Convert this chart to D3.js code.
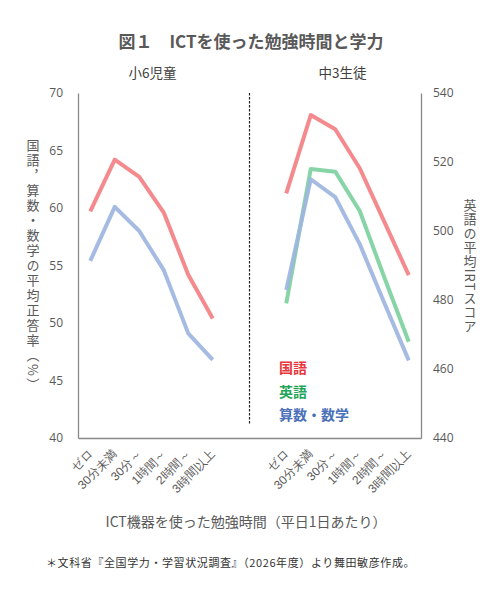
<!DOCTYPE html>
<html><head><meta charset="utf-8">
<script src="https://cdn.jsdelivr.net/npm/d3@7/dist/d3.min.js"></script>
<style>
html,body{margin:0;padding:0;background:#fff;}
svg{display:block;font-family:"Noto Sans CJK JP","Noto Sans",sans-serif;}
</style></head>
<body><svg id="chart" width="501" height="600"></svg>
<script>
const categories = ["ゼロ","30分未満","30分～","1時間～","2時間～","3時間以上"];
const groups = ["小6児童","中3生徒"];
const elemKokugo = [59.7, 64.2, 62.7, 59.6, 54.2, 50.4];
const elemMath   = [55.4, 60.1, 58.0, 54.6, 49.1, 46.8];
const juniorKokugo  = [510.9, 533.6, 529.5, 518.2, 502.7, 487.2];
const juniorEnglish = [479.0, 518.0, 517.2, 505.8, 486.6, 467.9];
const juniorMath    = [482.9, 515.0, 509.8, 496.2, 479.2, 462.5];
const leftTicks  = [40, 45, 50, 55, 60, 65, 70];
const rightTicks = [440, 460, 480, 500, 520, 540];
const legendItems = ["国語","英語","算数・数学"];

const svg = d3.select("#chart");
const M = {left: 78, right: 421, top: 93, bottom: 438};
const grey = "#595959";
const colLine = {k: "#f38083", e: "#7dd1a0", m: "#9db5df"};
const colText = {k: "#e8353b", e: "#23a55b", m: "#4a70b8"};

// slot domain: 6 elementary, 2 gaps, 6 junior
const slots = [...categories.map(c => "s|" + c), "gap1", "gap2", ...categories.map(c => "j|" + c)];
const x = d3.scaleBand().domain(slots).range([M.left, M.right]).paddingInner(0).paddingOuter(0);
const cx = k => x(k) + x.bandwidth() / 2;
const yL = d3.scaleLinear().domain([40, 70]).range([M.bottom, M.top]);
const yR = d3.scaleLinear().domain([440, 540]).range([M.bottom, M.top]);

// title
svg.append("text").attr("x", 251).attr("y", 48).attr("text-anchor", "middle")
  .attr("font-size", 17).attr("font-weight", "bold").attr("fill", grey)
  .text("図１　ICTを使った勉強時間と学力");

// group labels
svg.append("text").attr("x", (x("s|ゼロ") + x("gap1")) / 2 + 1).attr("y", 78).attr("text-anchor", "middle")
  .attr("font-size", 13.5).attr("fill", "#404040").text(groups[0]);
svg.append("text").attr("x", (x("j|ゼロ") + M.right) / 2 - 5).attr("y", 78).attr("text-anchor", "middle")
  .attr("font-size", 13.5).attr("fill", "#404040").text(groups[1]);

// left axis
const gL = svg.append("g").attr("transform", `translate(${M.left},0)`)
  .call(d3.axisLeft(yL).tickValues(leftTicks).tickSize(0).tickPadding(15));
gL.select(".domain").attr("stroke", "#898989").attr("stroke-width", 1.3);
gL.selectAll("text").attr("font-size", 12).attr("fill", grey).attr("font-family", "'Open Sans','Noto Sans',sans-serif");

// right axis
const gR = svg.append("g").attr("transform", `translate(${M.right},0)`)
  .call(d3.axisRight(yR).tickValues(rightTicks).tickSize(0).tickPadding(12));
gR.select(".domain").attr("stroke", "#898989").attr("stroke-width", 1.3);
gR.selectAll("text").attr("font-size", 12).attr("fill", grey).attr("font-family", "'Open Sans','Noto Sans',sans-serif");

// bottom axis
const tickKeys = slots.filter(s => s.indexOf("|") > 0);
const gB = svg.append("g").attr("transform", `translate(0,${M.bottom})`)
  .call(d3.axisBottom(x).tickValues(tickKeys).tickSize(0).tickFormat(d => d.split("|")[1]));
gB.select(".domain").attr("stroke", "#898989").attr("stroke-width", 1.3);
gB.selectAll(".tick text")
  .attr("font-size", 12).attr("fill", grey)
  .attr("text-anchor", "end").attr("y", 0).attr("dy", 0)
  .attr("transform", "translate(3,17) rotate(-45)");

// divider
svg.append("line").attr("x1", x("gap2")).attr("x2", x("gap2"))
  .attr("y1", M.top).attr("y2", 424)
  .attr("stroke", "#222").attr("stroke-width", 1.2).attr("stroke-dasharray", "2.5,1.5");

// lines
const mkLine = (prefix, yScale) => d3.line().x((d, i) => cx(prefix + categories[i])).y(d => yScale(d));
const series = [
  {v: elemKokugo, p: "s|", y: yL, c: colLine.k},
  {v: elemMath, p: "s|", y: yL, c: colLine.m},
  {v: juniorKokugo, p: "j|", y: yR, c: colLine.k},
  {v: juniorEnglish, p: "j|", y: yR, c: colLine.e},
  {v: juniorMath, p: "j|", y: yR, c: colLine.m}
];
svg.append("g").selectAll("path").data(series).join("path")
  .attr("d", s => mkLine(s.p, s.y)(s.v))
  .attr("fill", "none").attr("stroke", s => s.c).attr("stroke-width", 4)
  .attr("stroke-linejoin", "round").attr("stroke-opacity", 0.92);

// legend
const legCols = [colText.k, colText.e, colText.m];
svg.append("g").selectAll("text").data(legendItems).join("text")
  .attr("x", 279).attr("y", (d, i) => 373 + i * 23.5)
  .attr("font-size", 14).attr("font-weight", "bold").attr("fill", (d, i) => legCols[i])
  .text(d => d);

// axis titles (vertical)
svg.append("text").attr("x", 33).attr("y", 266)
  .attr("text-anchor", "middle").style("writing-mode", "vertical-rl")
  .attr("font-size", 13).attr("letter-spacing", 2).attr("fill", grey)
  .text("国語，算数・数学の平均正答率（%）");
svg.append("text").attr("x", 470).attr("y", 266)
  .attr("text-anchor", "middle").style("writing-mode", "vertical-rl")
  .attr("font-size", 13).attr("letter-spacing", 1).attr("fill", grey)
  .text("英語の平均IRTスコア");

// x axis title
svg.append("text").attr("x", 246).attr("y", 527).attr("text-anchor", "middle")
  .attr("font-size", 14).attr("fill", grey)
  .text("ICT機器を使った勉強時間（平日1日あたり）");

// footnote
svg.append("text").attr("x", 46).attr("y", 567)
  .attr("font-size", 11).attr("letter-spacing", 0.6).attr("fill", "#333")
  .text("＊文科省『全国学力・学習状況調査』（2026年度）より舞田敏彦作成。");
</script></body></html>
